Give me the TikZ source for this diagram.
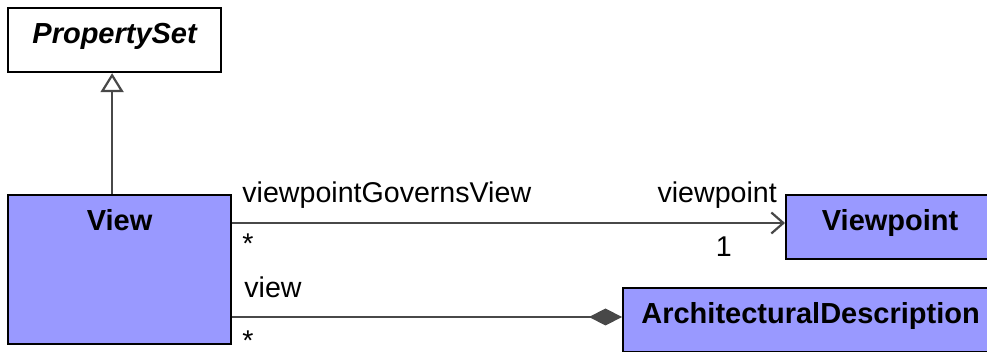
\documentclass[tikz,border=0pt]{standalone}
\usepackage{fontspec}
\setmainfont{Liberation Sans}
\usetikzlibrary{positioning, arrows.meta}
\definecolor{ClassBlue}{RGB}{153,153,255}
\definecolor{LinkGray}{RGB}{72,72,72}

\begin{document}
\begin{tikzpicture}[x=1pt, y=-1pt, every node/.style={font=\fontsize{28.6}{33}\selectfont},
  classbox/.style={draw, line width=2.2pt, anchor=north west, inner sep=0pt, text height=35pt, font=\bfseries\fontsize{29}{34}\selectfont},
  role/.style={inner sep=0pt},
  link/.style={line width=2.2pt, draw=LinkGray}]

\path[use as bounding box, clip] (0,0) rectangle (987,352);

% Classes
\node[classbox, minimum width=213pt, minimum height=64pt, text depth=29pt] (propset) at (7,7) {\itshape PropertySet};
\node[classbox, fill=ClassBlue, minimum width=223pt, minimum height=149pt, text depth=114pt] (view) at (7,194) {View};
\node[classbox, fill=ClassBlue, minimum width=208pt, minimum height=64pt, text depth=29pt] (viewpoint) at (785,194) {Viewpoint};
\node[classbox, fill=ClassBlue, minimum width=375pt, minimum height=64pt, text depth=29pt] (archdesc) at (622,287) {ArchitecturalDescription};

% Generalization View -> PropertySet
\draw[link, -{Triangle[open, length=19pt, width=23pt, fill=white]}] ([xshift=-2.5pt]view.north -| propset.south) -- ([xshift=-2.5pt]propset.south);

% Association View -> Viewpoint
\draw[link, -{Straight Barb[length=12pt, width=21pt]}] ([yshift=-29pt]view.north east) -- ([yshift=-29pt]viewpoint.north west);

% Composition ArchitecturalDescription <>- View
\draw[link, -{Diamond[length=33pt, width=17pt, fill=LinkGray]}] ([yshift=-123pt]view.north east) -- ([yshift=-30pt]archdesc.north west);

% Role names and multiplicities
\node[role, anchor=base west] (govlabel) at ([xshift=10pt, yshift=-9pt]view.north east) {viewpointGovernsView};
\node[role, anchor=base west] (govmult) at ([xshift=10pt, yshift=-60pt]view.north east) {*};
\node[role, anchor=base west] (viewrole) at ([xshift=12pt, yshift=-104pt]view.north east) {view};
\node[role, anchor=north west] (viewmult) at ([xshift=10pt, yshift=-137pt]view.north east) {*};
\node[role, anchor=base east] (vprole) at ([xshift=-8pt, yshift=-9pt]viewpoint.north west) {viewpoint};
\node[role, anchor=base east] (vpmult) at ([xshift=-53pt, yshift=-63pt]viewpoint.north west) {1};
\end{tikzpicture}
\end{document}
